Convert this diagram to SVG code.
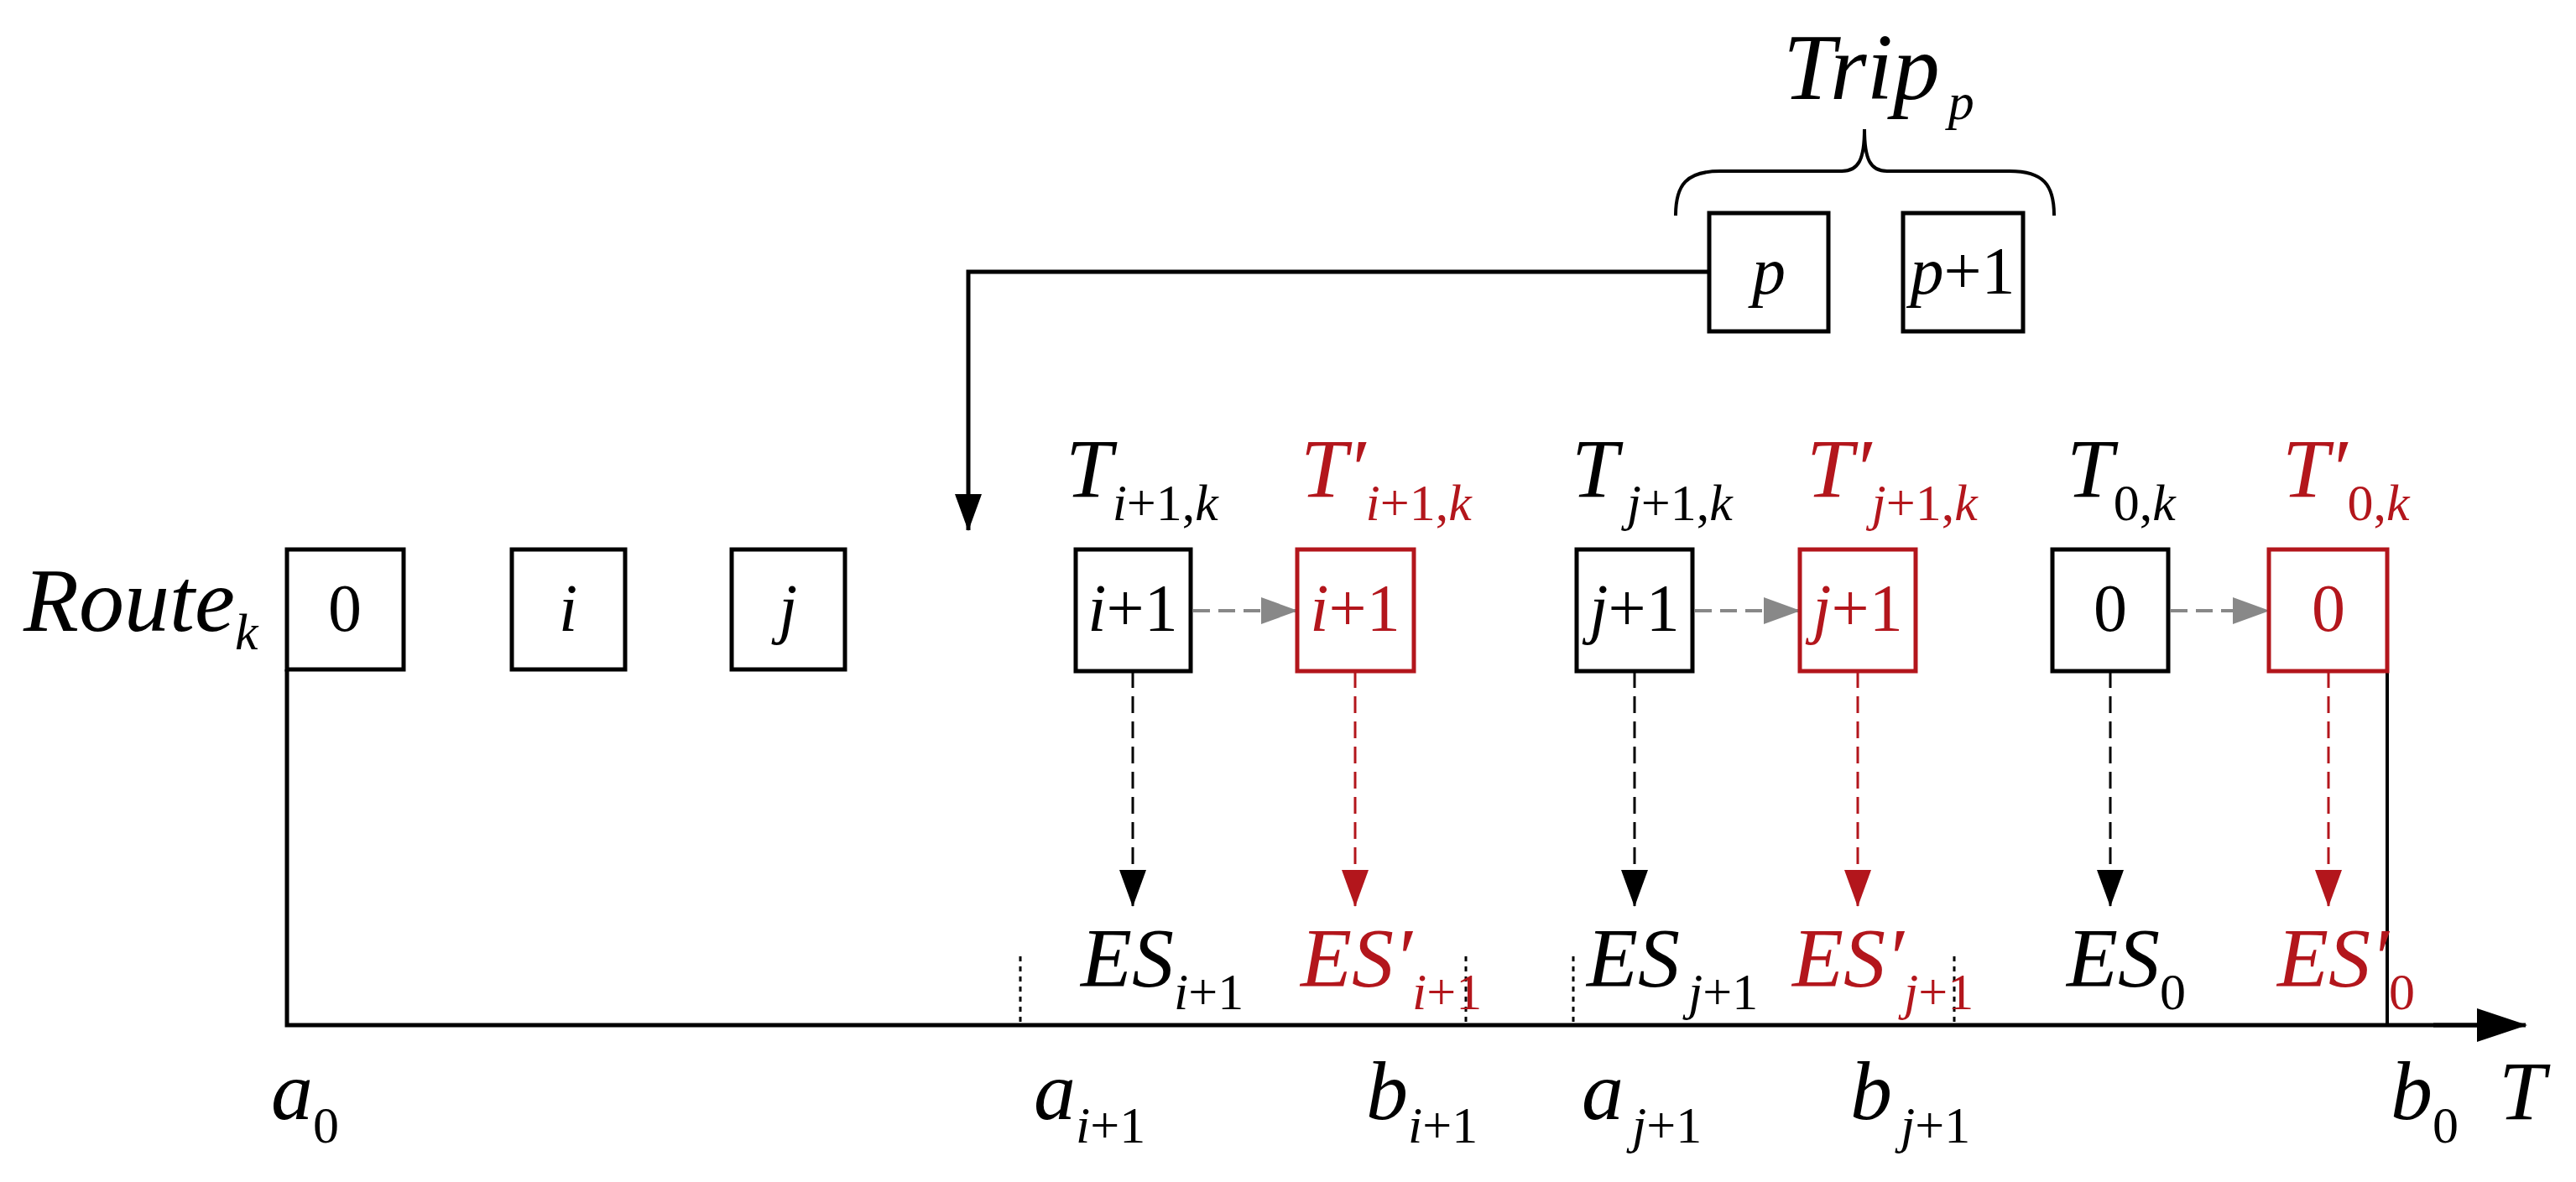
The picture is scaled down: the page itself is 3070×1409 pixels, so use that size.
<svg xmlns="http://www.w3.org/2000/svg" width="3070" height="1409" viewBox="0 0 3070 1409" font-family="Liberation Serif, DejaVu Serif, serif">
<defs>
<style>
text{font-family:"Liberation Serif","DejaVu Serif","Noto Serif",Times,serif;font-style:italic;fill:#000}
.big{font-size:100px}
.sub{font-size:62px}
.up{font-style:normal}
.red{fill:#b3161c}
.box{fill:#fff;stroke:#000;stroke-width:5}
.rbox{fill:#fff;stroke:#b3161c;stroke-width:5}
.num{font-size:80px;text-anchor:middle}
.ln{fill:none;stroke:#000;stroke-width:5}
.dk{fill:none;stroke:#000;stroke-width:3;stroke-dasharray:20 10}
.dr{fill:none;stroke:#b3161c;stroke-width:3;stroke-dasharray:20 10}
.dg{fill:none;stroke:#888;stroke-width:4;stroke-dasharray:20 10}
.dot{fill:none;stroke:#000;stroke-width:3;stroke-dasharray:6 6}
</style>
<marker id="akb" markerWidth="44" markerHeight="44" refX="43" refY="22" orient="auto" markerUnits="userSpaceOnUse"><path d="M0,6 L44,22 L0,38 Z" fill="#000"/></marker>
<marker id="ar" markerWidth="44" markerHeight="44" refX="43" refY="22" orient="auto" markerUnits="userSpaceOnUse"><path d="M0,6 L44,22 L0,38 Z" fill="#b3161c"/></marker>
<marker id="ag" markerWidth="44" markerHeight="44" refX="43" refY="22" orient="auto" markerUnits="userSpaceOnUse"><path d="M0,6 L44,22 L0,38 Z" fill="#888"/></marker>
<marker id="axis" markerWidth="60" markerHeight="50" refX="58" refY="25" orient="auto" markerUnits="userSpaceOnUse"><path d="M0,5 L60,25 L0,45 Z" fill="#000"/></marker>
</defs>

<g id="connectors">
<polyline class="ln" points="342,798 342,1222 2960,1222" />
<line class="ln" x1="2900" y1="1222" x2="3010" y2="1222" marker-end="url(#axis)"/>
<line class="ln" x1="2845" y1="798" x2="2845" y2="1222" style="stroke-width:4"/>
<polyline class="ln" points="2037,324 1154,324 1154,632" marker-end="url(#akb)"/>
<line class="dk" x1="1350" y1="800" x2="1350" y2="1080" marker-end="url(#akb)"/>
<line class="dr" x1="1615" y1="800" x2="1615" y2="1080" marker-end="url(#ar)"/>
<line class="dk" x1="1948" y1="800" x2="1948" y2="1080" marker-end="url(#akb)"/>
<line class="dr" x1="2214" y1="800" x2="2214" y2="1080" marker-end="url(#ar)"/>
<line class="dk" x1="2515" y1="800" x2="2515" y2="1080" marker-end="url(#akb)"/>
<line class="dr" x1="2775" y1="800" x2="2775" y2="1080" marker-end="url(#ar)"/>
<line class="dg" x1="1422" y1="728" x2="1546" y2="728" marker-end="url(#ag)"/>
<line class="dg" x1="2020" y1="728" x2="2145" y2="728" marker-end="url(#ag)"/>
<line class="dg" x1="2587" y1="728" x2="2704" y2="728" marker-end="url(#ag)"/>
<line class="dot" x1="1216" y1="1140" x2="1216" y2="1222"/>
<line class="dot" x1="1747" y1="1140" x2="1747" y2="1222"/>
<line class="dot" x1="1875" y1="1140" x2="1875" y2="1222"/>
<line class="dot" x1="2329" y1="1140" x2="2329" y2="1222"/>
<path class="ln" style="stroke-width:4" d="M1997,257 C1997,220 2010,204 2050,204 L2195,204 C2215,204 2222,190 2222,154 C2222,190 2229,204 2249,204 L2395,204 C2435,204 2448,220 2448,257"/>
</g>

<g id="route"><text x="28" y="752" style="font-size:108px">Route<tspan class="sub" dy="22">k</tspan></text></g>
<g id="trip"><text x="2125" y="118" style="font-size:112px">Trip<tspan class="sub" dx="10" dy="24">p</tspan></text></g>

<g id="n0"><rect class="box" x="342" y="655" width="139" height="143"/><text class="num up" x="411" y="752">0</text></g>
<g id="ni"><rect class="box" x="610" y="655" width="135" height="143"/><text class="num" x="677" y="752">i</text></g>
<g id="nj"><rect class="box" x="872" y="655" width="135" height="143"/><text class="num" x="939" y="752">j</text></g>
<g id="np"><rect class="box" x="2037" y="254" width="142" height="141"/><text class="num" x="2108" y="350">p</text></g>
<g id="np1"><rect class="box" x="2268" y="254" width="143" height="141"/><text class="num" x="2339" y="350">p<tspan class="up">+1</tspan></text></g>

<g id="ni1"><rect class="box" x="1282" y="655" width="137" height="145"/><text class="num" x="1350" y="752">i<tspan class="up">+1</tspan></text>
<text x="1270" y="592" class="big">T<tspan class="sub" dy="28">i<tspan class="up">+1,</tspan>k</tspan></text></g>
<g id="ni1r"><rect class="rbox" x="1546" y="655" width="139" height="145"/><text class="num red" x="1615" y="752">i<tspan class="up">+1</tspan></text>
<text x="1550" y="592" class="big red">T′<tspan class="sub" dy="28">i<tspan class="up">+1,</tspan>k</tspan></text></g>
<g id="nj1"><rect class="box" x="1879" y="655" width="138" height="145"/><text class="num" x="1948" y="752">j<tspan class="up">+1</tspan></text>
<text x="1873" y="592" class="big">T<tspan class="sub" dx="10" dy="28">j<tspan class="up">+1,</tspan>k</tspan></text></g>
<g id="nj1r"><rect class="rbox" x="2145" y="655" width="138" height="145"/><text class="num red" x="2214" y="752">j<tspan class="up">+1</tspan></text>
<text x="2153" y="592" class="big red">T′<tspan class="sub" dy="28">j<tspan class="up">+1,</tspan>k</tspan></text></g>
<g id="n00"><rect class="box" x="2446" y="655" width="138" height="145"/><text class="num up" x="2515" y="752">0</text>
<text x="2463" y="592" class="big">T<tspan class="sub" dy="28"><tspan class="up">0,</tspan>k</tspan></text></g>
<g id="n00r"><rect class="rbox" x="2704" y="655" width="141" height="145"/><text class="num up red" x="2775" y="752">0</text>
<text x="2720" y="592" class="big red">T′<tspan class="sub" dy="28"><tspan class="up">0,</tspan>k</tspan></text></g>

<g id="es">
<text x="1288" y="1175" class="big">ES<tspan class="sub" dy="28">i<tspan class="up">+1</tspan></tspan></text>
<text x="1550" y="1175" class="big red">ES′<tspan class="sub" dy="28">i<tspan class="up">+1</tspan></tspan></text>
<text x="1891" y="1175" class="big">ES<tspan class="sub" dx="10" dy="28">j<tspan class="up">+1</tspan></tspan></text>
<text x="2136" y="1175" class="big red">ES′<tspan class="sub" dy="28">j<tspan class="up">+1</tspan></tspan></text>
<text x="2463" y="1175" class="big">ES<tspan class="sub up" dy="28">0</tspan></text>
<text x="2714" y="1175" class="big red">ES′<tspan class="sub up" dy="28">0</tspan></text>
</g>
<g id="axislabels">
<text x="323" y="1334" class="big">a<tspan class="sub up" dy="28">0</tspan></text>
<text x="1232" y="1334" class="big">a<tspan class="sub" dy="28">i<tspan class="up">+1</tspan></tspan></text>
<text x="1628" y="1334" class="big">b<tspan class="sub" dy="28">i<tspan class="up">+1</tspan></tspan></text>
<text x="1885" y="1334" class="big">a<tspan class="sub" dx="10" dy="28">j<tspan class="up">+1</tspan></tspan></text>
<text x="2205" y="1334" class="big">b<tspan class="sub" dx="10" dy="28">j<tspan class="up">+1</tspan></tspan></text>
<text x="2849" y="1334" class="big">b<tspan class="sub up" dy="28">0</tspan></text>
<text x="2978" y="1334" class="big">T</text>
</g>
</svg>
